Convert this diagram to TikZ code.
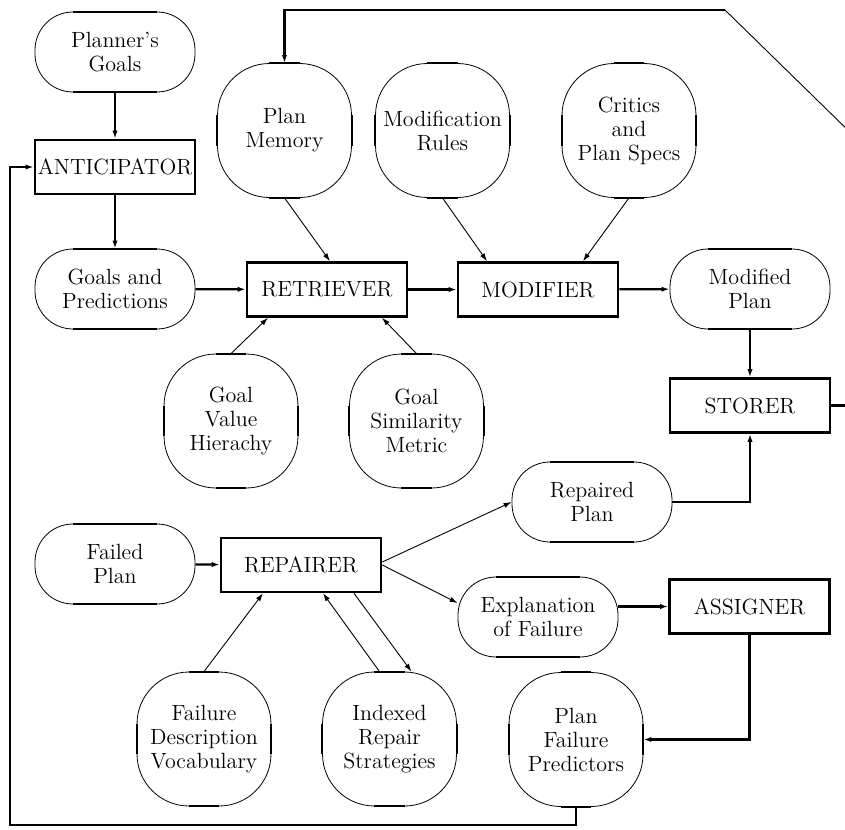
\documentclass[tikz,border=0pt]{standalone}
\usetikzlibrary{arrows.meta}

\tikzset{
  module/.style={draw, line width=1.3pt, minimum width=80pt, minimum height=27pt, inner sep=0pt, font=\fontsize{11}{12}\selectfont},
  flat/.style={line width=1pt},
  datum/.style={draw, line width=0.4pt, rounded corners=19pt, minimum width=80pt, minimum height=40pt, inner sep=0pt, align=center, font=\fontsize{11}{12}\selectfont,
    append after command={\pgfextra{\let\ovnode=\tikzlastnode}
      ([xshift=19pt]\ovnode.north west) edge[flat] ([xshift=-19pt]\ovnode.north east)
      ([xshift=19pt]\ovnode.south west) edge[flat] ([xshift=-19pt]\ovnode.south east)}},
  knowledge/.style={draw, line width=0.4pt, rounded corners=26pt, minimum width=67pt, minimum height=67pt, inner sep=0pt, align=center, font=\fontsize{11}{12}\selectfont,
    append after command={\pgfextra{\let\ovnode=\tikzlastnode}
      ([xshift=26pt]\ovnode.north west) edge[flat] ([xshift=-26pt]\ovnode.north east)
      ([xshift=26pt]\ovnode.south west) edge[flat] ([xshift=-26pt]\ovnode.south east)
      ([yshift=-26pt]\ovnode.north west) edge[flat] ([yshift=26pt]\ovnode.south west)
      ([yshift=-26pt]\ovnode.north east) edge[flat] ([yshift=26pt]\ovnode.south east)}},
  flow/.style={-{Latex[length=4pt,width=2.6pt]}, line width=1.1pt},
  link/.style={-{Latex[length=4pt,width=2.6pt]}, line width=0.45pt},
}

\begin{document}
\begin{tikzpicture}[x=0.5pt, y=-0.5pt]

        \useasboundingbox (0,0) rectangle (845,829);
        \clip (0,0) rectangle (845,829);

        % anticipating
        \node[datum] (planner) at (115,52) {Planner's\\Goals};
        \node[module] (anticip) at (115,167) {ANTICIPATOR};
        \node[datum] (goalspred) at (115,289) {Goals and\\Predictions};

        % retrieving and modifying
        \node[knowledge] (planmem) at (284.5,130.5) {Plan\\Memory};
        \node[knowledge] (modrules) at (442.5,130.5) {Modification\\Rules};
        \node[knowledge] (critics) at (629,130.5) {Critics\\and\\Plan Specs};
        \node[module] (retriever) at (327,289.5) {RETRIEVER};
        \node[module] (modifier) at (538,289.5) {MODIFIER};
        \node[datum] (modplan) at (750,289) {Modified\\Plan};
        \node[knowledge] (goalval) at (231,421) {Goal\\Value\\Hierachy};
        \node[knowledge] (goalsim) at (416.5,421) {Goal\\Similarity\\Metric};

        % storing
        \node[module] (storer) at (750,405.5) {STORER};

        % repairing
        \node[datum] (repplan) at (592,502) {Repaired\\Plan};
        \node[datum] (failplan) at (115,564) {Failed\\Plan};
        \node[module] (repairer) at (301,565) {REPAIRER};
        \node[datum] (explan) at (538,617) {Explanation\\of Failure};
        \node[module] (assigner) at (749.5,606.5) {ASSIGNER};
        \node[knowledge] (faildesc) at (204,739) {Failure\\Description\\Vocabulary};
        \node[knowledge] (indexed) at (389.5,739) {Indexed\\Repair\\Strategies};
        \node[knowledge] (pfp) at (576,739.5) {Plan\\Failure\\Predictors};

        % corners of the long loops
        \coordinate (loopcorner) at (10,825);
        \coordinate (offright) at (860,142);
        \coordinate (topbend) at (725,10);

        % main flow
        \draw[flow] (planner) -- (anticip);
        \draw[flow] (anticip) -- (goalspred);
        \draw[flow] (goalspred) -- (retriever);
        \draw[flow] (retriever) -- (modifier);
        \draw[flow] (modifier) -- (modplan);
        \draw[flow] (modplan) -- (storer);

        % knowledge into retriever and modifier
        \draw[link] (planmem.south) -- ([xshift=1.5pt]retriever.north);
        \draw[link] (modrules.south) -- ([xshift=-25.5pt]modifier.north);
        \draw[link] (critics.south) -- ([xshift=22.5pt]modifier.north);
        \draw[link] (goalval.north) -- ([xshift=-29.5pt]retriever.south);
        \draw[link] (goalsim.north) -- ([xshift=27.5pt]retriever.south);

        % repair paths
        \draw[flow] (failplan) -- (repairer);
        \draw[link] ([yshift=1.5pt]repairer.east) -- (repplan.west);
        \draw[link] (repairer.east) -- ([yshift=7pt]explan.west);
        \draw[link] (faildesc.north) -- ([xshift=-19pt]repairer.south);
        \draw[link] ([xshift=-5pt]indexed.north) -- ([xshift=11pt]repairer.south);
        \draw[link] ([xshift=26.5pt]repairer.south) -- ([xshift=11pt]indexed.north);
        \draw[flow] (repplan.east) -| (storer.south);
        \draw[flow] (assigner.west -| explan.east) -- (assigner.west);
        \draw[flow] (assigner.south) |- (pfp.east);

        % feedback loops
        \draw[flow] (pfp.south) |- (loopcorner) |- (anticip.west);
        \draw[line width=1.1pt] (storer.east) -| (offright);
        \draw[line width=0.45pt] (offright) -- (topbend);
        \draw[flow] (topbend) -| (planmem.north);

\end{tikzpicture}
\end{document}
